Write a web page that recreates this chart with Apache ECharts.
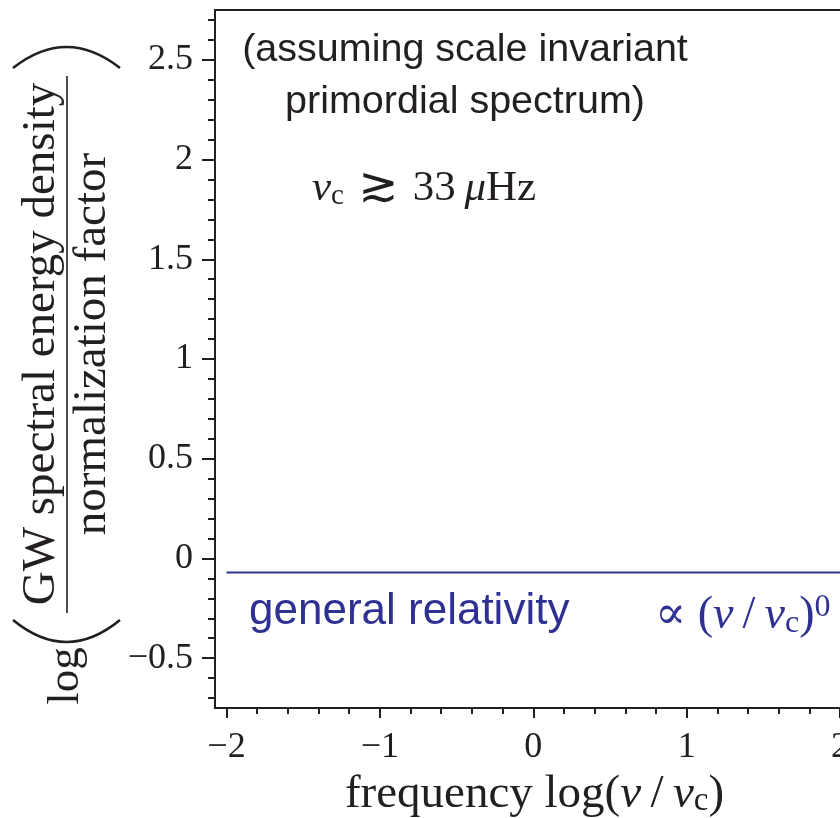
<!DOCTYPE html>
<html>
<head>
<meta charset="utf-8">
<script src="https://cdn.jsdelivr.net/npm/echarts@6/dist/echarts.min.js"></script>
<style>
html,body{margin:0;padding:0;background:#fff;}
#chart{width:840px;height:818px;}
</style>
</head>
<body>
<div id="chart"></div>
<script>
// ---- data ----
const lineX = [-2, 2];
const lineY = [-0.07, -0.07];

const xTickValues = [-2, -1, 0, 1, 2];
const xTickLabels = ['\u22122', '\u22121', '0', '1', '2'];
const xMinorTicks = [-1.8, -1.6, -1.4, -1.2, -0.8, -0.6, -0.4, -0.2, 0.2, 0.4, 0.6, 0.8, 1.2, 1.4, 1.6, 1.8];

const yTickValues = [-0.5, 0, 0.5, 1, 1.5, 2, 2.5];
const yTickLabels = ['\u22120.5', '0', '0.5', '1', '1.5', '2', '2.5'];
const yMinorTicks = [-0.7, -0.6, -0.4, -0.3, -0.2, -0.1, 0.1, 0.2, 0.3, 0.4, 0.6, 0.7, 0.8, 0.9,
  1.1, 1.2, 1.3, 1.4, 1.6, 1.7, 1.8, 1.9, 2.1, 2.2, 2.3, 2.4, 2.6, 2.7];

const X_MIN = -2.075, X_MAX = 2;
const Y_MIN = -0.75, Y_MAX = 2.75;

const INK = '#231f20';
const BLUE = '#2e3192';
const SERIF = '"Liberation Serif", "DejaVu Serif", serif';
const SANS = '"Liberation Sans", Arial, sans-serif';

const chart = echarts.init(document.getElementById('chart'), null, {renderer: 'canvas'});

const option = {
  backgroundColor: '#fff',
  animation: false,
  grid: {left: 215, right: 0, top: 10, bottom: 110, containLabel: false, outerBoundsMode: 'none'},
  xAxis: [
    {
      type: 'value', min: X_MIN, max: X_MAX, position: 'bottom',
      axisLine: {show: true, onZero: false, lineStyle: {color: INK, width: 2}},
      axisTick: {show: true, inside: false, length: 10, customValues: xTickValues, lineStyle: {color: INK, width: 2}},
      axisLabel: {show: true, customValues: xTickValues, margin: 22,
        formatter: v => xTickLabels[xTickValues.indexOf(v)],
        fontFamily: SERIF, fontSize: 36, color: INK},
      splitLine: {show: false},
      name: 'frequency log({it|\u03bd}\u2009/\u2009{it|\u03bd}{sub|c})',
      nameLocation: 'middle', nameGap: 57,
      nameTextStyle: {fontFamily: SERIF, fontSize: 47, color: INK, lineHeight: 47,
        padding: [0, 0, 0, 14],
        rich: {
          it: {fontFamily: SERIF, fontSize: 47, fontStyle: 'italic', color: INK, lineHeight: 47},
          sub: {fontFamily: SERIF, fontSize: 33, color: INK, lineHeight: 22, verticalAlign: 'bottom'}
        }}
    },
    {
      type: 'value', min: X_MIN, max: X_MAX, position: 'bottom',
      axisLine: {show: false, onZero: false},
      axisTick: {show: true, inside: false, length: 6, customValues: xMinorTicks, lineStyle: {color: INK, width: 2}},
      axisLabel: {show: false},
      splitLine: {show: false}
    },
    {
      type: 'value', min: X_MIN, max: X_MAX, position: 'top',
      axisLine: {show: true, onZero: false, lineStyle: {color: INK, width: 2}},
      axisTick: {show: false}, axisLabel: {show: false}, splitLine: {show: false}
    }
  ],
  yAxis: [
    {
      type: 'value', min: Y_MIN, max: Y_MAX, position: 'left',
      axisLine: {show: true, onZero: false, lineStyle: {color: INK, width: 2}},
      axisTick: {show: true, inside: false, length: 13, customValues: yTickValues, lineStyle: {color: INK, width: 2}},
      axisLabel: {show: true, customValues: yTickValues, margin: 22,
        formatter: v => yTickLabels[yTickValues.indexOf(v)],
        fontFamily: SERIF, fontSize: 36, color: INK},
      splitLine: {show: false}
    },
    {
      type: 'value', min: Y_MIN, max: Y_MAX, position: 'left',
      axisLine: {show: false, onZero: false},
      axisTick: {show: true, inside: false, length: 7, customValues: yMinorTicks, lineStyle: {color: INK, width: 2}},
      axisLabel: {show: false},
      splitLine: {show: false}
    }
  ],
  series: [
    {
      type: 'line', xAxisIndex: 0, yAxisIndex: 0,
      data: lineX.map((x, i) => [x, lineY[i]]),
      symbol: 'none', lineStyle: {color: BLUE, width: 2}, silent: true
    }
  ],
  graphic: [
    // top-left note
    {type: 'text', x: 465, y: 76, style: {
      text: '(assuming scale invariant\nprimordial spectrum)',
      fontFamily: SANS, fontSize: 39.5, lineHeight: 52, fill: INK,
      align: 'center', verticalAlign: 'middle'}},
    // nu_c bound
    {type: 'text', x: 312, y: 189, style: {
      text: '{it|\u03bd}{sub|c}\u2004{rel|\u2273}\u2004 33\u2009{it|\u03bc}Hz'.replace('\u2004 33', '\u200433'),
      fontFamily: SERIF, fontSize: 43, fill: INK, align: 'left', verticalAlign: 'middle',
      rich: {
        it: {fontFamily: SERIF, fontSize: 43, fontStyle: 'italic', fill: INK, lineHeight: 44},
        sub: {fontFamily: SERIF, fontSize: 29, fill: INK, lineHeight: 18, verticalAlign: 'bottom'},
        rel: {fontFamily: '"DejaVu Sans", sans-serif', fontSize: 48, fill: INK, lineHeight: 44}
      }}},
    // general relativity label
    {type: 'text', x: 249, y: 612, style: {
      text: 'general relativity', fontFamily: SANS, fontSize: 44, fill: BLUE,
      align: 'left', verticalAlign: 'middle'}},
    // proportional label
    {type: 'text', x: 655, y: 616, style: {
      text: '\u221d ({it|\u03bd}\u2009/\u2009{it|\u03bd}{sub|c}){sup|0}',
      fontFamily: SERIF, fontSize: 46, fill: BLUE, align: 'left', verticalAlign: 'middle',
      rich: {
        it: {fontFamily: SERIF, fontSize: 46, fontStyle: 'italic', fill: BLUE, lineHeight: 48},
        sub: {fontFamily: SERIF, fontSize: 32, fill: BLUE, lineHeight: 20, verticalAlign: 'bottom'},
        sup: {fontFamily: SERIF, fontSize: 32, fill: BLUE, lineHeight: 20, verticalAlign: 'top'}
      }}},
    // y-axis label: log( fraction )
    {type: 'text', x: 89, y: 676, rotation: Math.PI / 2, style: {
      text: 'log', fontFamily: SERIF, fontSize: 45, fill: INK, align: 'center', verticalAlign: 'bottom'}},
    {type: 'text', x: 65, y: 344, rotation: Math.PI / 2, style: {
      text: 'GW spectral energy density', fontFamily: SERIF, fontSize: 47, fill: INK,
      align: 'center', verticalAlign: 'bottom'}},
    {type: 'text', x: 69, y: 344, rotation: Math.PI / 2, style: {
      text: 'normalization factor', fontFamily: SERIF, fontSize: 47, fill: INK,
      align: 'center', verticalAlign: 'top'}},
    {type: 'line', shape: {x1: 67, y1: 76, x2: 67, y2: 613}, style: {stroke: INK, lineWidth: 1.6}},
    {type: 'bezierCurve', shape: {x1: 13, y1: 68, x2: 120, y2: 68, cpx1: 66.5, cpy1: 26},
      style: {stroke: INK, lineWidth: 2.6, fill: null}},
    {type: 'bezierCurve', shape: {x1: 13, y1: 620, x2: 120, y2: 620, cpx1: 66.5, cpy1: 664},
      style: {stroke: INK, lineWidth: 2.6, fill: null}}
  ]
};
chart.setOption(option);
</script>
</body>
</html>
